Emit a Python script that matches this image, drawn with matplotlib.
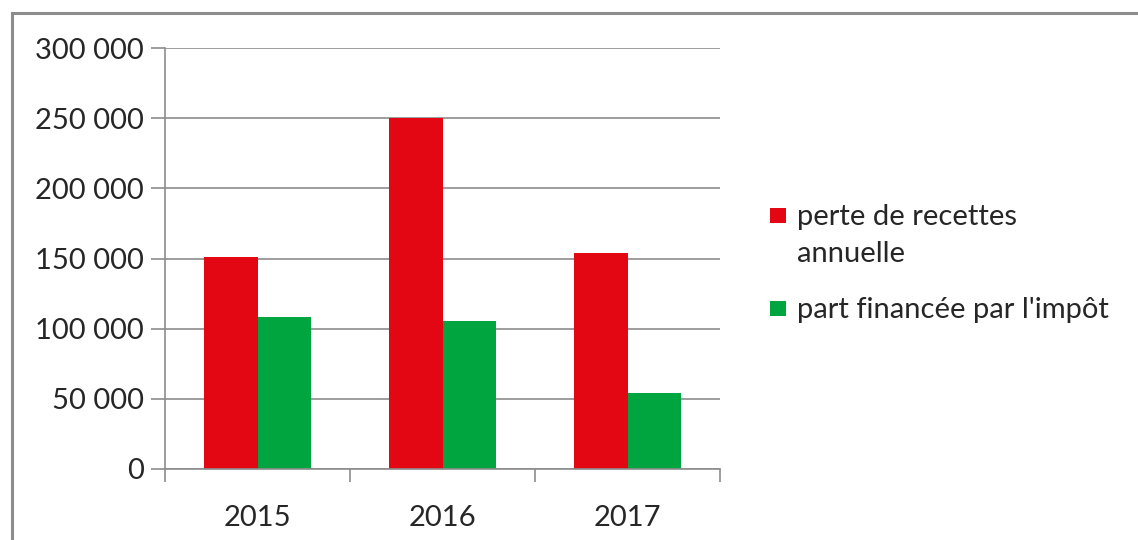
import matplotlib.pyplot as plt
import numpy as np
from matplotlib.patches import Rectangle
from matplotlib.ticker import FuncFormatter

# données
annees = ["2015", "2016", "2017"]
perte_recettes = [151000, 250000, 154000]
part_impot = [108500, 105500, 54000]
libelles = [["perte de recettes", "annuelle"], ["part financée par l'impôt"]]

rouge = "#e30613"
vert = "#00a540"
gris = "#8c8c8c"
texte = "#262626"

plt.rcParams["font.family"] = ["Lato", "DejaVu Sans"]

fig = plt.figure(figsize=(11.38, 5.4), dpi=100)
ax = fig.add_axes([0.145, 0.1315, 0.4877, 0.7795])

x = np.arange(len(annees))
w = 0.287
ax.bar(x - w / 2, perte_recettes, w, color=rouge, zorder=2)
ax.bar(x + w / 2, part_impot, w, color=vert, zorder=2)

ax.set_xlim(-0.5, 2.5)
ax.set_ylim(0, 300000)
ax.set_yticks(np.arange(0, 300001, 50000))
ax.yaxis.set_major_formatter(FuncFormatter(lambda v, p: f"{int(v):,}".replace(",", " ")))
ax.set_xticks(x)
ax.set_xticklabels(annees)
ax.set_xticks([-0.5, 0.5, 1.5, 2.5], minor=True)

ax.grid(axis="y", color=gris, linewidth=1.2, zorder=0)
for s in ["top", "right"]:
    ax.spines[s].set_visible(False)
for s in ["left", "bottom"]:
    ax.spines[s].set_color(gris)
    ax.spines[s].set_linewidth(1.2)

ax.tick_params(axis="y", length=10, width=1.2, color=gris, labelsize=21, labelcolor=texte, pad=5)
ax.tick_params(axis="x", which="major", length=0, labelsize=21, labelcolor=texte, pad=26)
ax.tick_params(axis="x", which="minor", length=9, width=1.2, color=gris)

# légende à la manière d'Excel : carré aligné sur la première ligne
for couleur, lignes, y0 in [(rouge, libelles[0], 0.5833), (vert, libelles[1], 0.4111)]:
    fig.patches.append(Rectangle((0.6766, y0 + 0.004), 0.0141, 0.028, transform=fig.transFigure,
                                 facecolor=couleur, edgecolor="none"))
    for i, ligne in enumerate(lignes):
        fig.text(0.7004, y0 - i * 0.0685, ligne, fontsize=21, color=texte, va="baseline")

# cadre gris (ouvert à droite et en bas, comme sur la capture)
fig.patches.append(Rectangle((0.0105, -0.05), 1.05, 1.026, transform=fig.transFigure,
                             fill=False, edgecolor=gris, linewidth=2.2))

fig.savefig("out.png", dpi=100)
